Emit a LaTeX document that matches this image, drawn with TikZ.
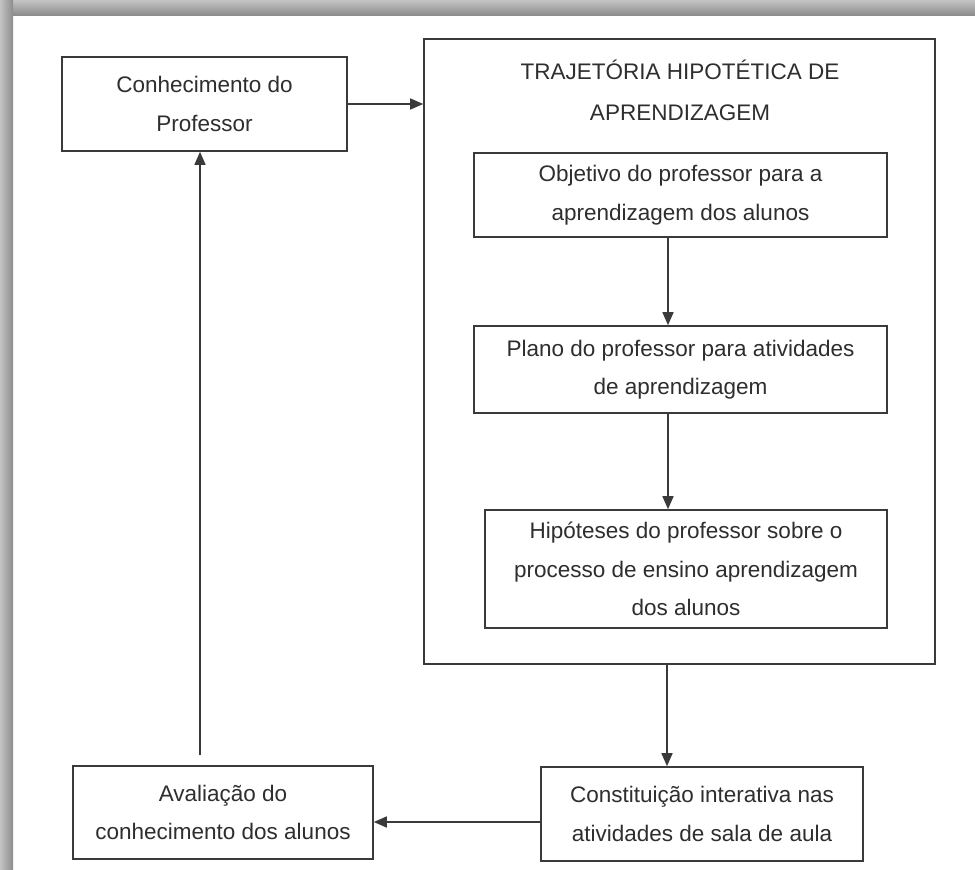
\documentclass[tikz,border=0pt]{standalone}
\usepackage{fontspec}
\setmainfont{Liberation Sans}
\usetikzlibrary{arrows.meta}
\definecolor{ink}{HTML}{3A3A3A}
\definecolor{txt}{HTML}{2E2E2E}
\definecolor{bandlight}{HTML}{C4C4C4}
\definecolor{banddark}{HTML}{8C8C8C}
\begin{document}
\begin{tikzpicture}[x=1pt,y=-1pt,
  box/.style={draw=ink, line width=1.6pt, inner sep=0pt, align=center, text=txt,
    font=\fontsize{22.5}{38.5}\selectfont},
  title/.style={inner sep=0pt, align=center, text=txt, font=\fontsize{22.5}{41}\selectfont},
  arr/.style={draw=ink, line width=1.5pt, -{Triangle[length=13pt,width=11pt]}}]
\useasboundingbox (0,0) rectangle (975,870);
\fill[white] (0,0) rectangle (975,870);
\shade[top color=bandlight, bottom color=banddark] (0,0) rectangle (975,15);
\shade[left color=bandlight, right color=banddark] (0,0) rectangle (13,870);

\node[box, minimum width=285pt, minimum height=94pt] (conh) at (204.5,104) {Conhecimento do\\Professor};
\node[box, minimum width=511pt, minimum height=625pt] (thl) at (679.5,351.5) {};
\node[title] (ttl) at (680,90) {TRAJETÓRIA HIPOTÉTICA DE\\APRENDIZAGEM};
\node[box, minimum width=413pt, minimum height=84pt] (obj) at (680.5,195) {Objetivo do professor para a\\aprendizagem dos alunos};
\node[box, minimum width=413pt, minimum height=87pt] (plano) at (680.5,369.5) {Plano do professor para atividades\\de aprendizagem};
\node[box, minimum width=402pt, minimum height=118pt] (hip) at (686,569) {Hipóteses do professor sobre o\\processo de ensino aprendizagem\\dos alunos};
\node[box, minimum width=322pt, minimum height=94pt] (const) at (702,814) {Constituição interativa nas\\atividades de sala de aula};
\node[box, minimum width=300pt, minimum height=93pt] (aval) at (223,812.5) {Avaliação do\\conhecimento dos alunos};

\draw[arr] (conh.east) -- (conh.east -| thl.west);
\coordinate (c1) at ([xshift=-12.5pt]obj.south);
\draw[arr] (c1) -- (c1 |- plano.north);
\coordinate (c2) at ([xshift=-12.5pt]plano.south);
\draw[arr] (c2) -- (c2 |- hip.north);
\coordinate (c3) at ([xshift=-12.5pt]thl.south);
\draw[arr] (c3) -- (c3 |- const.north);
\coordinate (c4) at ([yshift=-8pt]const.west);
\draw[arr] (c4) -- (c4 -| aval.east);
\coordinate (c5) at ([xshift=-23pt,yshift=10pt]aval.north);
\draw[arr] (c5) -- (c5 |- conh.south);
\end{tikzpicture}
\end{document}
